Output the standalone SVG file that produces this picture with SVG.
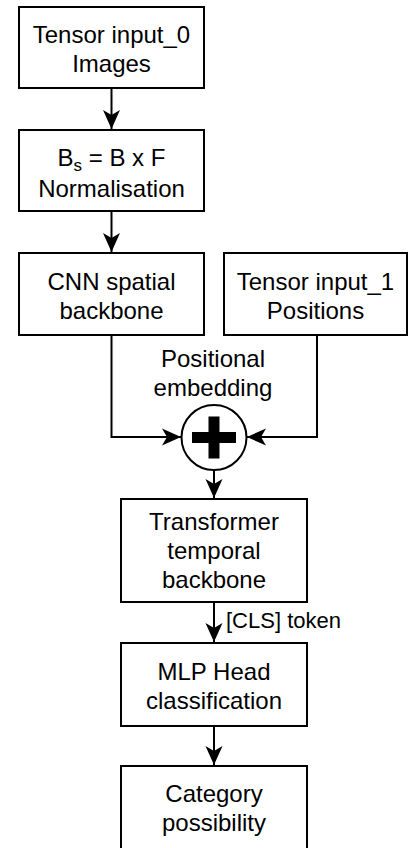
<svg xmlns="http://www.w3.org/2000/svg" width="409" height="848" viewBox="0 0 409 848">
<style>
.box{fill:#fff;stroke:#000;stroke-width:2}
.t{font-family:"Liberation Sans",Arial,sans-serif;font-size:24px;fill:#000;text-anchor:middle}
.lbl{font-family:"Liberation Sans",Arial,sans-serif;font-size:22px;fill:#000}
.e{fill:none;stroke:#000;stroke-width:2;marker-end:url(#arr)}
</style>
<defs>
<marker id="arr" markerUnits="userSpaceOnUse" markerWidth="22" markerHeight="22" viewBox="-21 -11 22 22" refX="0" refY="0" orient="auto" overflow="visible">
<path d="M0,0 L-19,-8.5 L-14,0 L-19,8.5 Z" fill="#000"/>
</marker>
</defs>
<rect width="409" height="848" fill="#fff"/>
<g id="connectors">
<path class="e" d="M111.5,88 L111.5,129"/>
<path class="e" d="M111.5,211 L111.5,252"/>
<path class="e" d="M111.5,335 L111.5,437 L181,437"/>
<path class="e" d="M317,335 L317,437 L247,437"/>
<path class="e" d="M214,470 L214,498"/>
<path class="e" d="M214,602 L214,642"/>
<path class="e" d="M214,726 L214,765"/>
<text class="lbl" x="226" y="628">[CLS] token</text>
</g>
<g id="n1">
<rect class="box" x="19" y="7" width="185" height="81"/>
<text class="t" x="111.5" y="43">Tensor input_0</text>
<text class="t" x="111.5" y="72">Images</text>
</g>
<g id="n2">
<rect class="box" x="19" y="130" width="185" height="81"/>
<text class="t" x="111.5" y="166">B<tspan font-size="17" dy="5">s</tspan><tspan dy="-5"> = B x F</tspan></text>
<text class="t" x="111.5" y="197">Normalisation</text>
</g>
<g id="n3">
<rect class="box" x="19" y="253" width="185" height="82"/>
<text class="t" x="111.5" y="289.5">CNN spatial</text>
<text class="t" x="111.5" y="318.5">backbone</text>
</g>
<g id="n4">
<rect class="box" x="224" y="253" width="183" height="82"/>
<text class="t" x="315.5" y="289.5">Tensor input_1</text>
<text class="t" x="315.5" y="318.5">Positions</text>
</g>
<g id="pe">
<text class="t" x="213" y="367">Positional</text>
<text class="t" x="213" y="395.5">embedding</text>
</g>
<g id="sum">
<circle cx="214" cy="437.5" r="32.5" fill="#fff" stroke="#000" stroke-width="2"/>
<path d="M208.5,416.5 H219.5 V432 H236 V443 H219.5 V458.5 H208.5 V443 H192 V432 H208.5 Z" fill="#000"/>
</g>
<g id="n5">
<rect class="box" x="121" y="499" width="186" height="103"/>
<text class="t" x="214" y="530">Transformer</text>
<text class="t" x="214" y="559">temporal</text>
<text class="t" x="214" y="588">backbone</text>
</g>
<g id="n6">
<rect class="box" x="121" y="643" width="186" height="83"/>
<text class="t" x="214" y="679.5">MLP Head</text>
<text class="t" x="214" y="708.5">classification</text>
</g>
<g id="n7">
<rect class="box" x="121" y="766" width="186" height="84"/>
<text class="t" x="214" y="802">Category</text>
<text class="t" x="214" y="831">possibility</text>
</g>
</svg>
